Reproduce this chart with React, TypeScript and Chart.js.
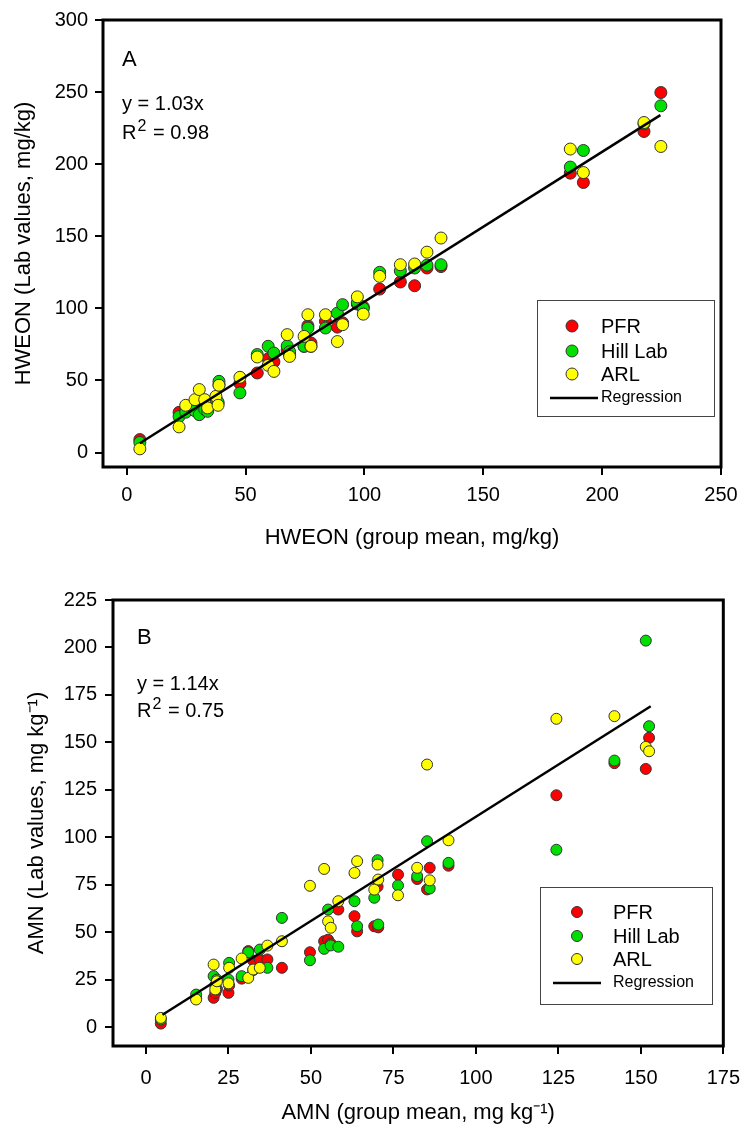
import React, { useEffect, useRef } from "react";
import { Chart, registerables } from "chart.js";

Chart.register(...registerables);

// ---------------- DATA ----------------
const labNames = ["PFR", "Hill Lab", "ARL"];
const labColors = ["#ff0000", "#00e000", "#ffff00"];

// Panel A: HWEON
const hweonMeans = [5.5, 22, 24.8, 28.7, 30.5, 32.8, 34, 37.5, 38.4, 38.8, 47.6, 54.9, 59.5, 61.9, 67.5, 68.5, 74.6, 76.2, 77.5, 83.6, 88.6, 90.8, 97, 99.5, 106.4, 115.1, 121.1, 126.3, 132.2, 186.6, 192.1, 217.6, 224.7];
const hweonPFR = [9, 27.9, 30, 30, 27, 33, 30, 38, 34, 47, 48, 55.2, 65, 63, 71, 68, 73.7, 88, 76, 91, 87, 90, 103, 101, 113.4, 118.3, 115.7, 128, 129, 193.8, 187.3, 222.7, 249.7];
const hweonHill = [7, 25, 28, 29, 26.3, 30, 28.6, 37, 35, 49.4, 41.4, 68, 73.7, 69, 74, 70, 73.7, 86.4, 73.7, 86.4, 96.7, 102.6, 104, 100, 125, 126, 128, 130, 130.3, 198, 209.5, 228, 240.5];
const hweonARL = [2.6, 17.8, 32.8, 36.7, 43.7, 36.7, 31, 39, 32.8, 46.7, 52.2, 66.3, 60.5, 56.3, 81.8, 66.7, 80.6, 95.6, 73.7, 95.6, 77, 88.7, 108, 96, 122.2, 130.3, 130.8, 139, 148.8, 210.5, 194.2, 228.9, 212.3];
const hweonRegX = [5.5, 224.5];
const hweonRegY = [6.5, 234];
const hweonXTicks = [0, 50, 100, 150, 200, 250];
const hweonYTicks = [0, 50, 100, 150, 200, 250, 300];

// Panel B: AMN
const amnMeans = [4.5, 15.2, 20.5, 21, 21.5, 25, 25.2, 29, 31, 32.5, 34.5, 36.8, 41.2, 49.7, 54, 55.2, 56, 58.3, 63.2, 64, 69.2, 70.2, 70.4, 76.4, 82.2, 85.2, 86, 91.7, 124.4, 142, 151.5, 152.5];
const amnPFR = [1.8, 15, 15.4, 18, 20, 18, 21.9, 25.5, 40, 35, 35.6, 35.6, 31.2, 39.4, 45.2, 46, 44, 61.9, 58.4, 50.4, 53.1, 74, 52.5, 80.3, 78, 72.5, 83.9, 85, 122.1, 139, 136, 152.4];
const amnHill = [4, 17.1, 26.8, 22, 25, 25, 33.8, 26.8, 39.4, 30, 40.8, 31.2, 57.5, 35.2, 41.2, 61.9, 43, 42.3, 66.3, 53.1, 68.1, 87.9, 54, 74.6, 79.5, 97.9, 73, 86.5, 93.4, 140.4, 203.6, 158.5];
const amnARL = [4.8, 14.5, 32.9, 19.8, 24.1, 23, 31.2, 36.1, 25.9, 30.3, 31.2, 42.9, 45.2, 74.4, 83.3, 55.7, 52.3, 66.3, 81.2, 87.4, 72.4, 85.6, 77.7, 69.4, 83.9, 138.3, 77.3, 98.4, 162.4, 163.8, 147.6, 145.3];
const amnRegX = [5, 153];
const amnRegY = [6.5, 169];
const amnXTicks = [0, 25, 50, 75, 100, 125, 150, 175];
const amnYTicks = [0, 25, 50, 75, 100, 125, 150, 175, 200, 225];

// ---------------- STYLE / LAYOUT ----------------
const FONT = "'Liberation Sans', Arial, Helvetica, sans-serif";

type Panel = {
  means: number[];
  series: number[][];
  regX: number[];
  regY: number[];
  xRange: [number, number];
  yRange: [number, number];
  xTicks: number[];
  yTicks: number[];
  xTitle: string;
  yTitle: string;
  letter: string;
  eq: string;
  r2: string;
  height: number;
  area: { left: number; right: number; top: number; bottom: number };
  xTickPad: number;
  yTickPad: number;
  xTitlePad: number;
  yTitlePad: number;
  radius: number;
  text: { x: number; letterY: number; eqY: number; r2Y: number };
  legend: { x: number; y: number; w: number; h: number; markerDx: number; textDx: number; rows: number[] };
};

const panels: Panel[] = [
  {
    means: hweonMeans,
    series: [hweonPFR, hweonHill, hweonARL],
    regX: hweonRegX,
    regY: hweonRegY,
    xRange: [-10, 250],
    yRange: [-10, 300],
    xTicks: hweonXTicks,
    yTicks: hweonYTicks,
    xTitle: "HWEON (group mean, mg/kg)",
    yTitle: "HWEON (Lab values, mg/kg)",
    letter: "A",
    eq: "y = 1.03x",
    r2: "0.98",
    height: 566,
    area: { left: 103, right: 721, top: 20, bottom: 467 },
    xTickPad: 8,
    yTickPad: 7,
    xTitlePad: 15,
    yTitlePad: 11,
    radius: 6,
    text: { x: 122, letterY: 60, eqY: 104, r2Y: 133 },
    legend: { x: 537, y: 300, w: 177, h: 116, markerDx: 35, textDx: 64, rows: [26, 51, 74, 98] },
  },
  {
    means: amnMeans,
    series: [amnPFR, amnHill, amnARL],
    regX: amnRegX,
    regY: amnRegY,
    xRange: [-10, 175],
    yRange: [-10, 225],
    xTicks: amnXTicks,
    yTicks: amnYTicks,
    xTitle: "AMN (group mean, mg kg\u207B\u00B9)",
    yTitle: "AMN (Lab values, mg kg\u207B\u00B9)",
    letter: "B",
    eq: "y = 1.14x",
    r2: "0.75",
    height: 567,
    area: { left: 113, right: 729, top: 34, bottom: 480 },
    xTickPad: 12,
    yTickPad: 8,
    xTitlePad: 7,
    yTitlePad: 24,
    radius: 5.5,
    text: { x: 137, letterY: 72, eqY: 118, r2Y: 145 },
    legend: { x: 540, y: 321, w: 172, h: 117, markerDx: 37, textDx: 73, rows: [25, 49, 72, 96] },
  },
];

const overlayPlugin = {
  id: "overlay",
  afterDatasetsDraw(chart: any, _args: any, opts: any) {
    const p: Panel = opts.panel;
    if (!p) return;
    const ctx = chart.ctx as CanvasRenderingContext2D;
    const a = chart.chartArea;
    ctx.save();
    // frame
    ctx.strokeStyle = "#000";
    ctx.lineWidth = 3;
    ctx.strokeRect(a.left, a.top, a.right - a.left, a.bottom - a.top);

    // annotations
    ctx.fillStyle = "#000";
    ctx.textBaseline = "middle";
    ctx.textAlign = "left";
    ctx.font = `22px ${FONT}`;
    ctx.fillText(p.letter, p.text.x, p.text.letterY);
    ctx.font = `20px ${FONT}`;
    ctx.fillText(p.eq, p.text.x, p.text.eqY);
    ctx.fillText("R", p.text.x, p.text.r2Y);
    const rw = ctx.measureText("R").width;
    ctx.font = `16px ${FONT}`;
    ctx.fillText("2", p.text.x + rw + 1, p.text.r2Y - 6);
    const sw = ctx.measureText("2").width;
    ctx.font = `20px ${FONT}`;
    ctx.fillText(" = " + p.r2, p.text.x + rw + sw + 2, p.text.r2Y);

    // legend
    const L = p.legend;
    ctx.lineWidth = 1;
    ctx.strokeStyle = "#444";
    ctx.strokeRect(L.x + 0.5, L.y + 0.5, L.w, L.h);
    for (let i = 0; i < labNames.length; i++) {
      const cy = L.y + L.rows[i];
      ctx.beginPath();
      ctx.arc(L.x + L.markerDx, cy, p.radius, 0, Math.PI * 2);
      ctx.fillStyle = labColors[i];
      ctx.fill();
      ctx.strokeStyle = "#333";
      ctx.stroke();
      ctx.fillStyle = "#000";
      ctx.font = `20px ${FONT}`;
      ctx.fillText(labNames[i], L.x + L.textDx, cy + 1);
    }
    const ry = L.y + L.rows[3];
    ctx.beginPath();
    ctx.moveTo(L.x + 13, ry);
    ctx.lineTo(L.x + 61, ry);
    ctx.lineWidth = 2.5;
    ctx.strokeStyle = "#000";
    ctx.stroke();
    ctx.font = `16px ${FONT}`;
    ctx.fillText("Regression", L.x + L.textDx, ry);
    ctx.restore();
  },
};

function buildConfig(p: Panel): any {
  const order = [3, 2, 1];
  const datasets: any[] = p.series.map((vals, i) => ({
    label: labNames[i],
    data: p.means.map((m, k) => ({ x: m, y: vals[k] })),
    backgroundColor: labColors[i],
    borderColor: "#333",
    borderWidth: 1,
    pointRadius: p.radius,
    pointHoverRadius: p.radius,
    order: order[i],
  }));
  datasets.push({
    type: "line",
    label: "Regression",
    data: p.regX.map((x, k) => ({ x, y: p.regY[k] })),
    borderColor: "#000",
    borderWidth: 2.5,
    pointRadius: 0,
    fill: false,
    order: 0,
  });
  const W = 752;
  return {
    type: "scatter",
    data: { datasets },
    options: {
      responsive: false,
      animation: false,
      devicePixelRatio: 1,
      layout: {
        padding: { left: 0, top: p.area.top, right: W - p.area.right, bottom: 0 },
      },
      plugins: {
        legend: { display: false },
        tooltip: { enabled: false },
        overlay: { panel: p },
      },
      scales: {
        x: {
          type: "linear",
          position: "bottom",
          min: p.xRange[0],
          max: p.xRange[1],
          afterBuildTicks: (s: any) => {
            s.ticks = p.xTicks.map((v) => ({ value: v }));
          },
          afterFit: (s: any) => {
            s.height = p.height - p.area.bottom;
          },
          grid: { drawOnChartArea: false, drawTicks: true, tickLength: 8, color: "#000", lineWidth: 2 },
          border: { display: false },
          ticks: { color: "#000", font: { family: FONT, size: 20 }, padding: p.xTickPad, maxRotation: 0 },
          title: {
            display: true,
            text: p.xTitle,
            color: "#000",
            font: { family: FONT, size: 22 },
            padding: { top: 0, bottom: p.xTitlePad },
          },
        },
        y: {
          type: "linear",
          position: "left",
          min: p.yRange[0],
          max: p.yRange[1],
          afterBuildTicks: (s: any) => {
            s.ticks = p.yTicks.map((v) => ({ value: v }));
          },
          afterFit: (s: any) => {
            s.width = p.area.left;
          },
          grid: { drawOnChartArea: false, drawTicks: true, tickLength: 8, color: "#000", lineWidth: 2 },
          border: { display: false },
          ticks: { color: "#000", font: { family: FONT, size: 20 }, padding: p.yTickPad },
          title: {
            display: true,
            text: p.yTitle,
            color: "#000",
            font: { family: FONT, size: 22 },
            padding: { top: p.yTitlePad, bottom: 0 },
          },
        },
      },
    },
    plugins: [overlayPlugin],
  };
}

function ChartPanel({ panel }: { panel: Panel }) {
  const ref = useRef<HTMLCanvasElement | null>(null);
  useEffect(() => {
    if (!ref.current) return;
    const chart = new Chart(ref.current, buildConfig(panel));
    return () => chart.destroy();
  }, [panel]);
  return (
    <canvas
      ref={ref}
      width={752}
      height={panel.height}
      style={{ display: "block", width: 752, height: panel.height }}
    />
  );
}

export default function App() {
  useEffect(() => {
    document.body.style.margin = "0";
    document.body.style.background = "#fff";
  }, []);
  return (
    <div style={{ width: 752, height: 1133, background: "#fff", overflow: "hidden" }}>
      <ChartPanel panel={panels[0]} />
      <ChartPanel panel={panels[1]} />
    </div>
  );
}
